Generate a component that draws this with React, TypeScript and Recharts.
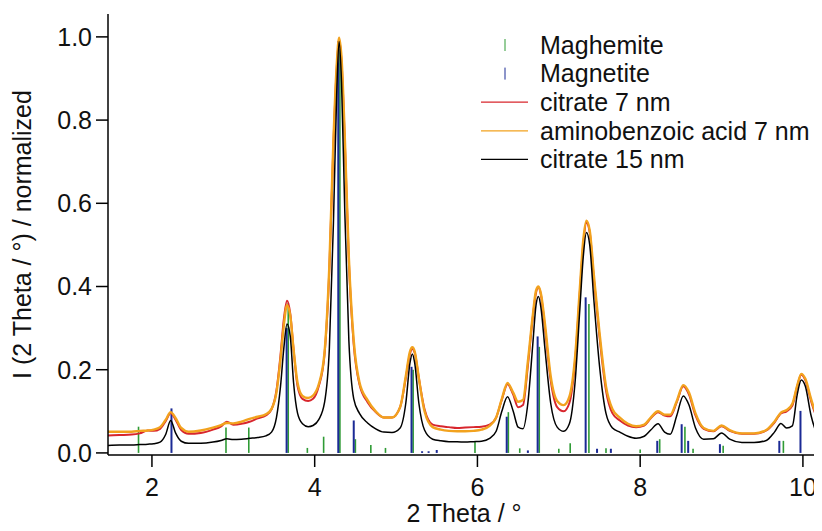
import { LineChart, Line, XAxis, YAxis, ReferenceLine, Legend } from "recharts";

// 2 Theta grid (deg) and normalized intensities
const twoTheta = [
  1.46, 1.6, 1.75, 1.85, 1.95, 2.02, 2.1, 2.17, 2.23, 2.29, 2.36, 2.45, 2.6, 2.75, 2.85, 2.92,
  3.0, 3.1, 3.2, 3.3, 3.4, 3.47, 3.53, 3.58, 3.62, 3.66, 3.7, 3.74, 3.79, 3.85, 3.92, 3.98,
  4.05, 4.12, 4.18, 4.23, 4.27, 4.3, 4.33, 4.37, 4.42, 4.48, 4.55, 4.65, 4.75, 4.85, 4.95,
  5.05, 5.12, 5.17, 5.2, 5.23, 5.28, 5.35, 5.45, 5.55, 5.65, 5.75, 5.85, 5.95, 6.05, 6.15,
  6.23, 6.3, 6.37, 6.44, 6.5, 6.56, 6.62, 6.68, 6.72, 6.75, 6.78, 6.83, 6.9, 6.98, 7.06,
  7.13, 7.2, 7.26, 7.3, 7.34, 7.38, 7.43, 7.5, 7.58, 7.66, 7.75, 7.85, 7.95, 8.05, 8.13,
  8.22, 8.3, 8.37, 8.45, 8.53, 8.6, 8.68, 8.78, 8.9, 9.0, 9.1, 9.25, 9.4, 9.55, 9.65, 9.73,
  9.8, 9.87, 9.93, 9.98, 10.03, 10.1, 10.16, 10.21,
];

const citrate7 = [
  0.042, 0.043, 0.044, 0.047, 0.054, 0.053, 0.058, 0.077, 0.096, 0.08, 0.055, 0.046, 0.048, 0.056, 0.064, 0.075,
  0.068, 0.07, 0.075, 0.083, 0.09, 0.105, 0.15, 0.235, 0.32, 0.366, 0.335, 0.25, 0.16, 0.13, 0.125, 0.13,
  0.16, 0.235, 0.44, 0.74, 0.92, 0.995, 0.94, 0.75, 0.46, 0.26, 0.165, 0.122, 0.098, 0.085, 0.085,
  0.11, 0.18, 0.238, 0.25, 0.24, 0.18, 0.105, 0.068, 0.064, 0.062, 0.06, 0.061, 0.062, 0.063, 0.068,
  0.085, 0.128, 0.165, 0.14, 0.11, 0.115, 0.21, 0.325, 0.385, 0.398, 0.38, 0.3, 0.175, 0.11, 0.1,
  0.12, 0.22, 0.39, 0.5, 0.553, 0.53, 0.42, 0.28, 0.15, 0.095, 0.078, 0.066, 0.062, 0.066, 0.083,
  0.098, 0.09, 0.088, 0.122, 0.16, 0.14, 0.09, 0.058, 0.052, 0.064, 0.053, 0.046, 0.046, 0.054, 0.073, 0.095,
  0.1, 0.114, 0.16, 0.188, 0.175, 0.125, 0.09, 0.075,
];

const amino7 = [
  0.051, 0.051, 0.051, 0.053, 0.054, 0.056, 0.062, 0.08, 0.098, 0.084, 0.06, 0.051, 0.054, 0.061, 0.067, 0.072,
  0.071, 0.075, 0.082, 0.087, 0.093, 0.106, 0.145, 0.225, 0.305, 0.355, 0.33, 0.25, 0.168, 0.137, 0.132, 0.138,
  0.165, 0.24, 0.45, 0.75, 0.93, 0.998, 0.95, 0.76, 0.47, 0.27, 0.17, 0.127, 0.1, 0.085, 0.085,
  0.11, 0.185, 0.243, 0.254, 0.243, 0.18, 0.1, 0.062, 0.056, 0.053, 0.052, 0.052, 0.053, 0.056, 0.065,
  0.085, 0.13, 0.168, 0.145, 0.123, 0.127, 0.22, 0.33, 0.39, 0.4, 0.383, 0.31, 0.185, 0.125, 0.115,
  0.135, 0.23, 0.4, 0.51, 0.558, 0.535, 0.43, 0.29, 0.16, 0.105, 0.085, 0.07, 0.064, 0.068, 0.085,
  0.1, 0.092, 0.092, 0.125, 0.163, 0.145, 0.095, 0.06, 0.053, 0.066, 0.055, 0.047, 0.047, 0.055, 0.075, 0.097,
  0.103, 0.118, 0.162, 0.19, 0.178, 0.13, 0.095, 0.08,
];

const citrate15 = [
  0.018, 0.019, 0.019, 0.02, 0.021, 0.022, 0.026, 0.045, 0.078, 0.048, 0.028, 0.023, 0.023, 0.026, 0.03, 0.034,
  0.032, 0.033, 0.035, 0.037, 0.041, 0.05, 0.085, 0.16, 0.25, 0.31, 0.28, 0.17, 0.095, 0.07, 0.063, 0.066,
  0.08, 0.12, 0.25, 0.55, 0.86, 0.989, 0.89, 0.58, 0.27, 0.13, 0.095, 0.072, 0.058, 0.05, 0.049,
  0.06, 0.12, 0.215, 0.238, 0.215, 0.12, 0.055, 0.033, 0.029, 0.027, 0.027, 0.026, 0.027, 0.028, 0.035,
  0.052, 0.1, 0.135, 0.1, 0.062, 0.058, 0.12, 0.26, 0.355, 0.376, 0.35, 0.25, 0.12, 0.062, 0.052,
  0.07, 0.17, 0.35, 0.47, 0.53, 0.5, 0.37, 0.21, 0.095, 0.06, 0.05, 0.04, 0.035, 0.04, 0.055,
  0.07, 0.05, 0.045, 0.09, 0.137, 0.115, 0.06, 0.033, 0.034, 0.048, 0.033, 0.025, 0.025, 0.03, 0.05, 0.071,
  0.06, 0.065, 0.14, 0.175, 0.16, 0.09, 0.052, 0.038,
];

// reference reflections (stick patterns)
const maghemitePos = [
  1.835, 2.91, 3.19, 3.675, 3.91, 4.11, 4.31, 4.5, 4.69, 4.87, 5.21, 5.97, 6.38, 6.52, 6.76, 7.0,
  7.14, 7.37, 7.58, 8.0, 8.24, 8.55, 8.65, 9.02, 9.76,
];
const maghemiteInt = [
  0.063, 0.061, 0.061, 0.36, 0.012, 0.039, 0.97, 0.033, 0.019, 0.012, 0.2, 0.027, 0.098, 0.011, 0.255, 0.01,
  0.023, 0.358, 0.011, 0.008, 0.033, 0.063, 0.01, 0.017, 0.029,
];
const magnetitePos = [
  2.24, 3.655, 4.29, 4.48, 5.19, 5.32, 5.4, 5.5, 6.36, 6.62, 6.74, 7.33, 7.47, 7.64, 8.21, 8.51,
  8.59, 8.98, 9.71, 9.97,
];
const magnetiteInt = [
  0.107, 0.3, 0.99, 0.078, 0.207, 0.004, 0.004, 0.007, 0.087, 0.006, 0.28, 0.374, 0.01, 0.01, 0.029, 0.069,
  0.029, 0.021, 0.029, 0.101,
];

const xTicks = [2, 4, 6, 8, 10];
const yTicks = [0, 0.2, 0.4, 0.6, 0.8, 1.0];

const FONT = "'Liberation Sans', Arial, sans-serif";
const RED = "#d8262d";
const ORANGE = "#f2a21e";
const GREEN = "#2f9b35";
const BLUE = "#1b2a95";

const data = twoTheta.map((x, i) => ({
  x,
  citrate7: citrate7[i],
  amino7: amino7[i],
  citrate15: citrate15[i],
}));

const legendRows = [
  { label: "Maghemite", color: GREEN, kind: "stick" },
  { label: "Magnetite", color: BLUE, kind: "stick" },
  { label: "citrate 7 nm", color: RED, kind: "line" },
  { label: "aminobenzoic acid 7 nm", color: ORANGE, kind: "line" },
  { label: "citrate 15 nm", color: "#000", kind: "line" },
];

const XrdLegend = () => (
  <svg width={350} height={150} style={{ display: "block" }}>
    {legendRows.map((r, i) => {
      const y = 15 + i * 28.6;
      return (
        <g key={r.label}>
          {r.kind === "stick" ? (
            <line x1={35} x2={35} y1={y - 6} y2={y + 6} stroke={r.color} strokeWidth={1} />
          ) : (
            <line x1={11} x2={58} y1={y} y2={y} stroke={r.color} strokeWidth={1.3} />
          )}
          <text x={70} y={y} dy="0.35em" fontSize={25} fontFamily={FONT} fill="#111">
            {r.label}
          </text>
        </g>
      );
    })}
  </svg>
);

const X_DOMAIN: [number, number] = [1.46, 10.21];
const Y_DOMAIN: [number, number] = [-0.005, 1.055];
const tickStyle = { fontSize: 25, fill: "#111", fontFamily: FONT };

export default function App() {
  return (
    <div style={{ fontFamily: FONT }}>
      <LineChart width={814} height={523} data={data} margin={{ top: 6, right: 2, bottom: 4, left: 0 }}>
        <XAxis
          dataKey="x"
          type="number"
          domain={X_DOMAIN}
          allowDataOverflow
          ticks={xTicks}
          tickSize={12}
          tickMargin={11}
          height={72}
          tick={tickStyle}
          axisLine={{ stroke: "#000", strokeWidth: 1.5 }}
          tickLine={{ stroke: "#000", strokeWidth: 1.5 }}
          label={{ value: "2 Theta / °", position: "insideBottom", offset: 5, fontSize: 25, fill: "#111", fontFamily: FONT }}
        />
        <XAxis
          xAxisId="top"
          orientation="top"
          dataKey="x"
          type="number"
          domain={X_DOMAIN}
          allowDataOverflow
          height={0}
          tick={false}
          tickLine={false}
          axisLine={{ stroke: "#000", strokeWidth: 1.5 }}
        />
        <YAxis
          type="number"
          domain={Y_DOMAIN}
          allowDataOverflow
          ticks={yTicks}
          tickFormatter={(v: number) => v.toFixed(1)}
          tickSize={12}
          tickMargin={4}
          width={100}
          tick={tickStyle}
          axisLine={{ stroke: "#000", strokeWidth: 1.5 }}
          tickLine={{ stroke: "#000", strokeWidth: 1.5 }}
          label={{
            value: "I (2 Theta / °) / normalized",
            angle: -90,
            position: "insideLeft",
            offset: 14,
            fontSize: 25,
            fill: "#111",
            fontFamily: FONT,
            style: { textAnchor: "middle" },
          }}
        />
        <YAxis
          yAxisId="right"
          orientation="right"
          type="number"
          domain={Y_DOMAIN}
          allowDataOverflow
          width={0}
          tick={false}
          tickLine={false}
          axisLine={{ stroke: "#000", strokeWidth: 1.5 }}
        />
        {maghemitePos.map((x, i) => (
          <ReferenceLine
            key={"mh" + i}
            segment={[{ x, y: 0 }, { x, y: maghemiteInt[i] }]}
            stroke={GREEN}
            strokeWidth={1.6}
          />
        ))}
        {magnetitePos.map((x, i) => (
          <ReferenceLine
            key={"mt" + i}
            segment={[{ x, y: 0 }, { x, y: magnetiteInt[i] }]}
            stroke={BLUE}
            strokeWidth={2}
          />
        ))}
        <Line type="monotone" dataKey="citrate7" stroke={RED} strokeWidth={2} dot={false} isAnimationActive={false} />
        <Line type="monotone" dataKey="amino7" stroke={ORANGE} strokeWidth={2.4} dot={false} isAnimationActive={false} />
        <Line type="monotone" dataKey="citrate15" stroke="#000" strokeWidth={1.5} dot={false} isAnimationActive={false} />
        <Legend
          layout="horizontal"
          verticalAlign="middle"
          align="center"
          content={() => <XrdLegend />}
          wrapperStyle={{ top: 22, left: 462, width: 350, height: 150 }}
        />
      </LineChart>
    </div>
  );
}
